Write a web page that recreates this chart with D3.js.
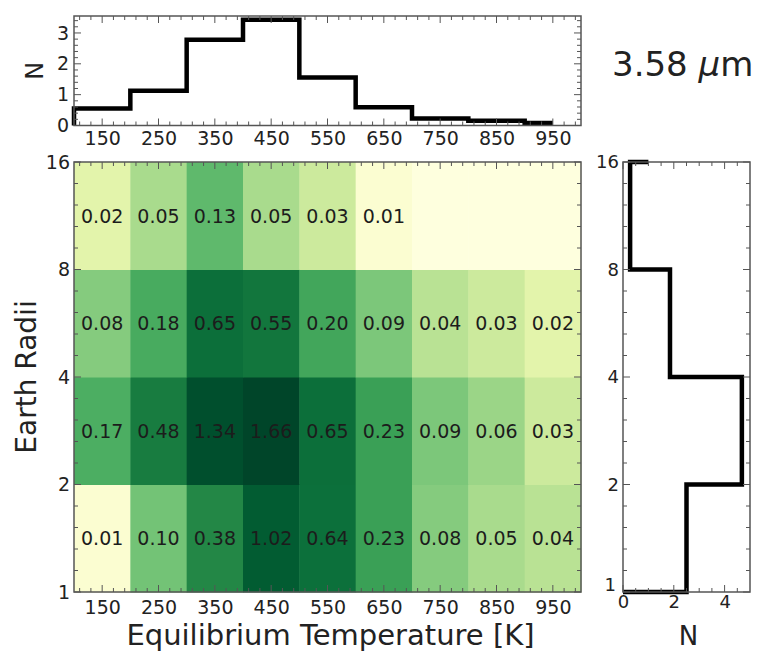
<!DOCTYPE html>
<html>
<head>
<meta charset="utf-8">
<script src="https://cdn.jsdelivr.net/npm/d3@7"></script>
<style>
  body { margin: 0; background: #fff; }
  text { font-family: "DejaVu Sans", sans-serif; fill: #222; }
</style>
</head>
<body>
<div id="chart"></div>
<script>
// temperature bins (centres, K) and their edges
const tempCentres = [150, 250, 350, 450, 550, 650, 750, 850, 950];
const tempEdges = [100, 200, 300, 400, 500, 600, 700, 800, 900, 1000];
// radius bins (Earth radii), bottom to top
const radiusEdges = [1, 2, 4, 8, 16];

// occurrence values per radius row, bottom row first (null = empty cell)
const row1to2 = [0.01, 0.10, 0.38, 1.02, 0.64, 0.23, 0.08, 0.05, 0.04];
const row2to4 = [0.17, 0.48, 1.34, 1.66, 0.65, 0.23, 0.09, 0.06, 0.03];
const row4to8 = [0.08, 0.18, 0.65, 0.55, 0.20, 0.09, 0.04, 0.03, 0.02];
const row8to16 = [0.02, 0.05, 0.13, 0.05, 0.03, 0.01, null, null, null];
const rows = [row1to2, row2to4, row4to8, row8to16];

// marginal histograms
const tempHistN = [0.55, 1.13, 2.78, 3.43, 1.56, 0.59, 0.23, 0.15, 0.085];
const radiusHistN = [2.5, 4.68, 1.85, 0.28];

const width = 758, height = 652;
const svg = d3.select("#chart").append("svg")
    .attr("width", width)
    .attr("height", height);

// panel boxes
const main = { left: 74, right: 581, top: 162, bottom: 592 };
const topP = { left: 74, right: 581, top: 16, bottom: 125.5 };
const sideP = { left: 623, right: 750, top: 162, bottom: 592 };

const x = d3.scaleLinear().domain([100, 1000]).range([main.left, main.right]);
const y = d3.scaleLog().base(2).domain([1, 16]).range([main.bottom, main.top]);
const yTop = d3.scaleLinear().domain([0, 3.55]).range([topP.bottom, topP.top]);
const xSide = d3.scaleLinear().domain([0, 5]).range([sideP.left, sideP.right]);

// colour: log norm on YlGn, slightly darkened in the middle
const norm = d3.scaleLog().domain([0.008, 1.66]).range([0, 1]).clamp(true);
const color = v => v == null ? d3.interpolateYlGn(0.02) : d3.interpolateYlGn(Math.pow(norm(v), 0.9));

// cells
const cells = [];
rows.forEach((row, r) => {
  row.forEach((v, c) => {
    cells.push({ x0: tempEdges[c], x1: tempEdges[c + 1], y0: radiusEdges[r], y1: radiusEdges[r + 1], v: v });
  });
});

svg.append("g").selectAll("rect")
  .data(cells)
  .enter().append("rect")
    .attr("x", d => x(d.x0))
    .attr("y", d => y(d.y1))
    .attr("width", d => x(d.x1) - x(d.x0) + 0.5)
    .attr("height", d => y(d.y0) - y(d.y1) + 0.5)
    .attr("fill", d => color(d.v));

svg.append("g").selectAll("text")
  .data(cells.filter(d => d.v != null))
  .enter().append("text")
    .attr("x", d => x((d.x0 + d.x1) / 2))
    .attr("y", d => y(Math.sqrt(d.y0 * d.y1)))
    .attr("dy", "0.36em")
    .attr("text-anchor", "middle")
    .style("font-size", "19px")
    .style("fill", "#1c1c1c")
    .text(d => d3.format(".2f")(d.v));

// helper: inward ticks on every side of a panel
function frameTicks(p, xs, ys, xMajor, xMinor, yMajor, yMinor) {
  const g = svg.append("g");
  const tick = (vals, len, horiz) => {
    vals.forEach(v => {
      if (horiz) {
        const px = xs(v);
        g.append("line").attr("x1", px).attr("x2", px).attr("y1", p.bottom).attr("y2", p.bottom - len);
        g.append("line").attr("x1", px).attr("x2", px).attr("y1", p.top).attr("y2", p.top + len);
      } else {
        const py = ys(v);
        g.append("line").attr("x1", p.left).attr("x2", p.left + len).attr("y1", py).attr("y2", py);
        g.append("line").attr("x1", p.right).attr("x2", p.right - len).attr("y1", py).attr("y2", py);
      }
    });
  };
  tick(xMajor, 7, true); tick(xMinor, 4, true);
  tick(yMajor, 7, false); tick(yMinor, 4, false);
  g.selectAll("line").attr("stroke", "#555").attr("stroke-width", 1);
  svg.append("rect")
    .attr("x", p.left).attr("y", p.top)
    .attr("width", p.right - p.left).attr("height", p.bottom - p.top)
    .attr("fill", "none").attr("stroke", "#555").attr("stroke-width", 1.5);
}

const tempMinor = d3.range(110, 1000, 20).filter(v => (v - 150) % 100 !== 0);
const radMinor = [];
for (let k = 0; k < 4; k++) for (let j = 1; j < 5; j++) radMinor.push(Math.pow(2, k + j / 5));

// top histogram
const topLine = [[100, 0]];
tempHistN.forEach((n, i) => {
  topLine.push([tempEdges[i], n]);
  topLine.push([i === tempHistN.length - 1 ? tempCentres[i] : tempEdges[i + 1], n]);
});
svg.append("path")
  .datum(topLine)
  .attr("d", d3.line().x(d => x(d[0])).y(d => yTop(d[1])))
  .attr("fill", "none")
  .attr("stroke", "#000")
  .attr("stroke-width", 4.5);

// side histogram
const sideLine = [[0, 1]];
radiusHistN.forEach((n, i) => {
  sideLine.push([n, radiusEdges[i]]);
  sideLine.push([n, radiusEdges[i + 1]]);
});
sideLine.push([1.0, 16]);
svg.append("path")
  .datum(sideLine)
  .attr("d", d3.line().x(d => xSide(d[0])).y(d => y(d[1])))
  .attr("fill", "none")
  .attr("stroke", "#000")
  .attr("stroke-width", 4.5);

frameTicks(main, x, y, tempCentres, tempMinor, radiusEdges, radMinor);
frameTicks(topP, x, yTop, tempCentres, tempMinor, [0, 1, 2, 3], d3.range(0.2, 3.5, 0.2).filter(v => Math.abs(v - Math.round(v)) > 0.01));
frameTicks(sideP, xSide, y, [0, 2, 4], [0.5, 1, 1.5, 2.5, 3, 3.5, 4.5], radiusEdges, radMinor);

// tick labels via d3 axes
function labels(axis, tx, ty, size) {
  const g = svg.append("g").attr("transform", `translate(${tx},${ty})`).call(axis);
  g.select(".domain").remove();
  g.selectAll(".tick line").remove();
  g.selectAll("text").style("font-size", size).style("font-family", "DejaVu Sans").attr("fill", "#222");
  return g;
}
const intFmt = d3.format("d");
labels(d3.axisBottom(x).tickValues(tempCentres).tickFormat(intFmt).tickPadding(9).tickSize(0), 0, main.bottom, "19px");
labels(d3.axisBottom(x).tickValues(tempCentres).tickFormat(intFmt).tickPadding(6).tickSize(0), 0, topP.bottom, "19px");
labels(d3.axisLeft(y).tickValues(radiusEdges).tickFormat(intFmt).tickPadding(4).tickSize(0), main.left, 0, "19px");
labels(d3.axisLeft(yTop).tickValues([0, 1, 2, 3]).tickFormat(intFmt).tickPadding(5).tickSize(0), topP.left, 0, "19px");
const sideY = labels(d3.axisLeft(y).tickValues(radiusEdges).tickFormat(intFmt).tickPadding(4).tickSize(0), sideP.left, 0, "18px");
// the "1" label sits raised so it clears the "0" below it
sideY.selectAll(".tick").filter(d => d === 1).select("text").attr("dy", "-0.1em").attr("x", -7);
labels(d3.axisBottom(xSide).tickValues([0, 2, 4]).tickFormat(intFmt).tickPadding(3).tickSize(0), 0, sideP.bottom, "18px");

// axis titles
svg.append("text")
  .attr("x", (main.left + main.right) / 2 + 3)
  .attr("y", 645)
  .attr("text-anchor", "middle")
  .style("font-size", "29px")
  .text("Equilibrium Temperature [K]");

svg.append("text")
  .attr("transform", `translate(36,${(main.top + main.bottom) / 2}) rotate(-90)`)
  .attr("text-anchor", "middle")
  .style("font-size", "28px")
  .text("Earth Radii");

svg.append("text")
  .attr("transform", `translate(43,${(topP.top + topP.bottom) / 2}) rotate(-90)`)
  .attr("text-anchor", "middle")
  .style("font-size", "24px")
  .text("N");

svg.append("text")
  .attr("x", (sideP.left + sideP.right) / 2 + 2)
  .attr("y", 645)
  .attr("text-anchor", "middle")
  .style("font-size", "26px")
  .text("N");

// wavelength label
const wl = svg.append("text")
  .attr("x", 612)
  .attr("y", 76)
  .style("font-size", "34px");
wl.append("tspan").text("3.58 ");
wl.append("tspan").style("font-style", "italic").text("μ");
wl.append("tspan").text("m");
</script>
</body>
</html>
